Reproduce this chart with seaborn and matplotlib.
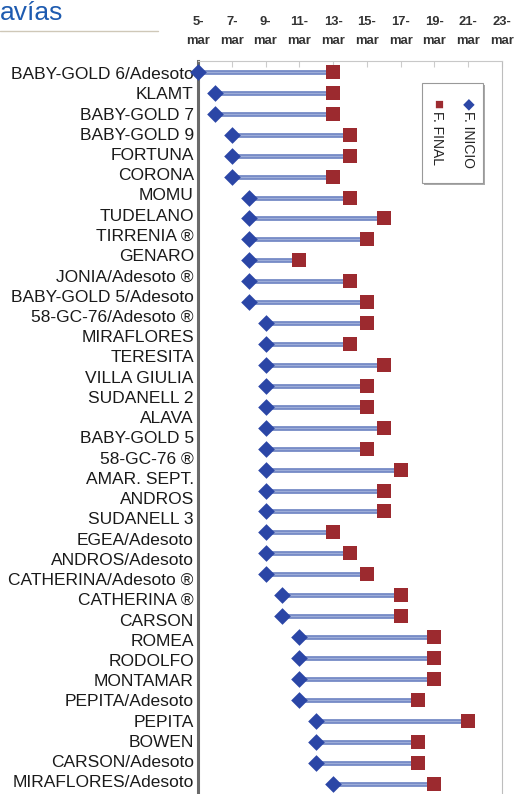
import numpy as np
import pandas as pd
import matplotlib
matplotlib.use("Agg")
import matplotlib.pyplot as plt
import seaborn as sns
from matplotlib.patches import FancyBboxPatch
from matplotlib.lines import Line2D

# variety names as shown on the left (36 labels)
varieties = ["BABY-GOLD 6/Adesoto", "KLAMT", "BABY-GOLD 7", "BABY-GOLD 9", "FORTUNA",
             "CORONA", "MOMU", "TUDELANO", "TIRRENIA \u00ae", "GENARO",
             "JONIA/Adesoto \u00ae", "BABY-GOLD 5/Adesoto", "58-GC-76/Adesoto \u00ae",
             "MIRAFLORES", "TERESITA", "VILLA GIULIA", "SUDANELL 2", "ALAVA",
             "BABY-GOLD 5", "58-GC-76 \u00ae", "AMAR. SEPT.", "ANDROS", "SUDANELL 3",
             "EGEA/Adesoto", "ANDROS/Adesoto", "CATHERINA/Adesoto \u00ae", "CATHERINA \u00ae",
             "CARSON", "ROMEA", "RODOLFO", "MONTAMAR", "PEPITA/Adesoto", "PEPITA",
             "BOWEN", "CARSON/Adesoto", "MIRAFLORES/Adesoto"]

# day of March for each plotted row (35 rows of marks)
f_inicio = [5, 6, 6, 7, 7, 7, 8, 8, 8, 8, 8, 8, 9, 9, 9, 9, 9, 9, 9, 9, 9, 9, 9, 9, 9,
            10, 10, 11, 11, 11, 11, 12, 12, 12, 13]
f_final = [13, 13, 13, 14, 14, 13, 14, 16, 15, 11, 14, 15, 15, 14, 16, 15, 15, 16, 15, 17,
           16, 16, 13, 14, 15, 17, 17, 19, 19, 19, 18, 21, 18, 18, 19]

tick_days = [5, 7, 9, 11, 13, 15, 17, 19, 21, 23]
tick_labels = [f"{d}-\nmar" for d in tick_days]

blue = "#2B46A6"
red = "#9C2A2F"
line_col = "#6F85C3"

sns.set_style("white")
plt.rcParams["font.family"] = ["Liberation Sans", "DejaVu Sans"]

fig = plt.figure(figsize=(5.16, 7.94), dpi=100)
ax = fig.add_axes([198 / 516, 0, 304 / 516, 1 - 61 / 794])

rows = np.arange(len(f_inicio))
df = pd.DataFrame({"row": rows, "inicio": f_inicio, "final": f_final})

ax.hlines(df["row"], df["inicio"], df["final"], color=line_col, lw=3.4, zorder=2)
ax.hlines(df["row"], df["inicio"], df["final"], color="#9DADD8", lw=1.0, zorder=2)
sns.scatterplot(data=df, x="final", y="row", marker="s", s=90, color=red,
                linewidth=0, ax=ax, zorder=3, clip_on=False)
sns.scatterplot(data=df, x="inicio", y="row", marker="D", s=72, color=blue,
                linewidth=0, ax=ax, zorder=4, clip_on=False)

ax.set_xlim(5, 23)
ax.set_ylim(len(rows) - 1 + 0.43, -0.525)
ax.set_xlabel("")
ax.set_ylabel("")

ax.xaxis.tick_top()
ax.set_xticks(tick_days, tick_labels)
ax.tick_params(axis="x", direction="in", length=4, color="#CCCCCC", pad=10,
               labelsize=9.4, labelcolor="#333333")
for t in ax.get_xticklabels():
    t.set_fontweight("bold")
    t.set_linespacing(1.75)

label_pos = np.linspace(0.05, 33.9, len(varieties))
ax.set_yticks(label_pos, varieties)
ax.set_yticks(np.arange(-0.5, len(rows), 1), minor=True)
ax.tick_params(axis="y", which="major", length=0, pad=3, labelsize=12.5,
               labelcolor="#1A1A1A")
ax.tick_params(axis="y", which="minor", direction="out", length=4, color="#C8C8C8")

ax.spines["left"].set_color("#6A6A6A")
ax.spines["left"].set_linewidth(2.2)
ax.spines["right"].set_color("#BDBDBD")
ax.spines["top"].set_color("#C8C8C8")
ax.spines["bottom"].set_visible(False)

# legend box with vertical text
shadow = FancyBboxPatch((424 / 516, 1 - 185 / 794), 61 / 516, 100 / 794,
                        boxstyle="square,pad=0", transform=fig.transFigure,
                        facecolor="#AAAAAA", edgecolor="none", zorder=5)
box = FancyBboxPatch((422 / 516, 1 - 183 / 794), 61 / 516, 100 / 794,
                     boxstyle="square,pad=0", transform=fig.transFigure,
                     facecolor="white", edgecolor="#999999", lw=0.8, zorder=6)
fig.patches.extend([shadow, box])
fig.text(468 / 516, 1 - 104 / 794, "\u25c6", color=blue, fontsize=11,
         ha="center", va="center", rotation=-90, zorder=7)
fig.text(468 / 516, 1 - 111 / 794, "F. INICIO", color="#222222", fontsize=10,
         ha="center", va="top", rotation=-90, zorder=7)
fig.text(437 / 516, 1 - 104 / 794, "\u25a0", color=red, fontsize=11,
         ha="center", va="center", rotation=-90, zorder=7)
fig.text(437 / 516, 1 - 111 / 794, "F. FINAL", color="#222222", fontsize=10,
         ha="center", va="top", rotation=-90, zorder=7)

# page heading fragment
fig.text(0.0, 1 - 20 / 794, "av\u00edas", color="#1E5BB0", fontsize=19,
         ha="left", va="baseline")
fig.lines.append(Line2D([0, 158 / 516], [1 - 31 / 794, 1 - 31 / 794],
                        transform=fig.transFigure, color="#CFC8B8", lw=1))

fig.savefig("out.png", dpi=100)
